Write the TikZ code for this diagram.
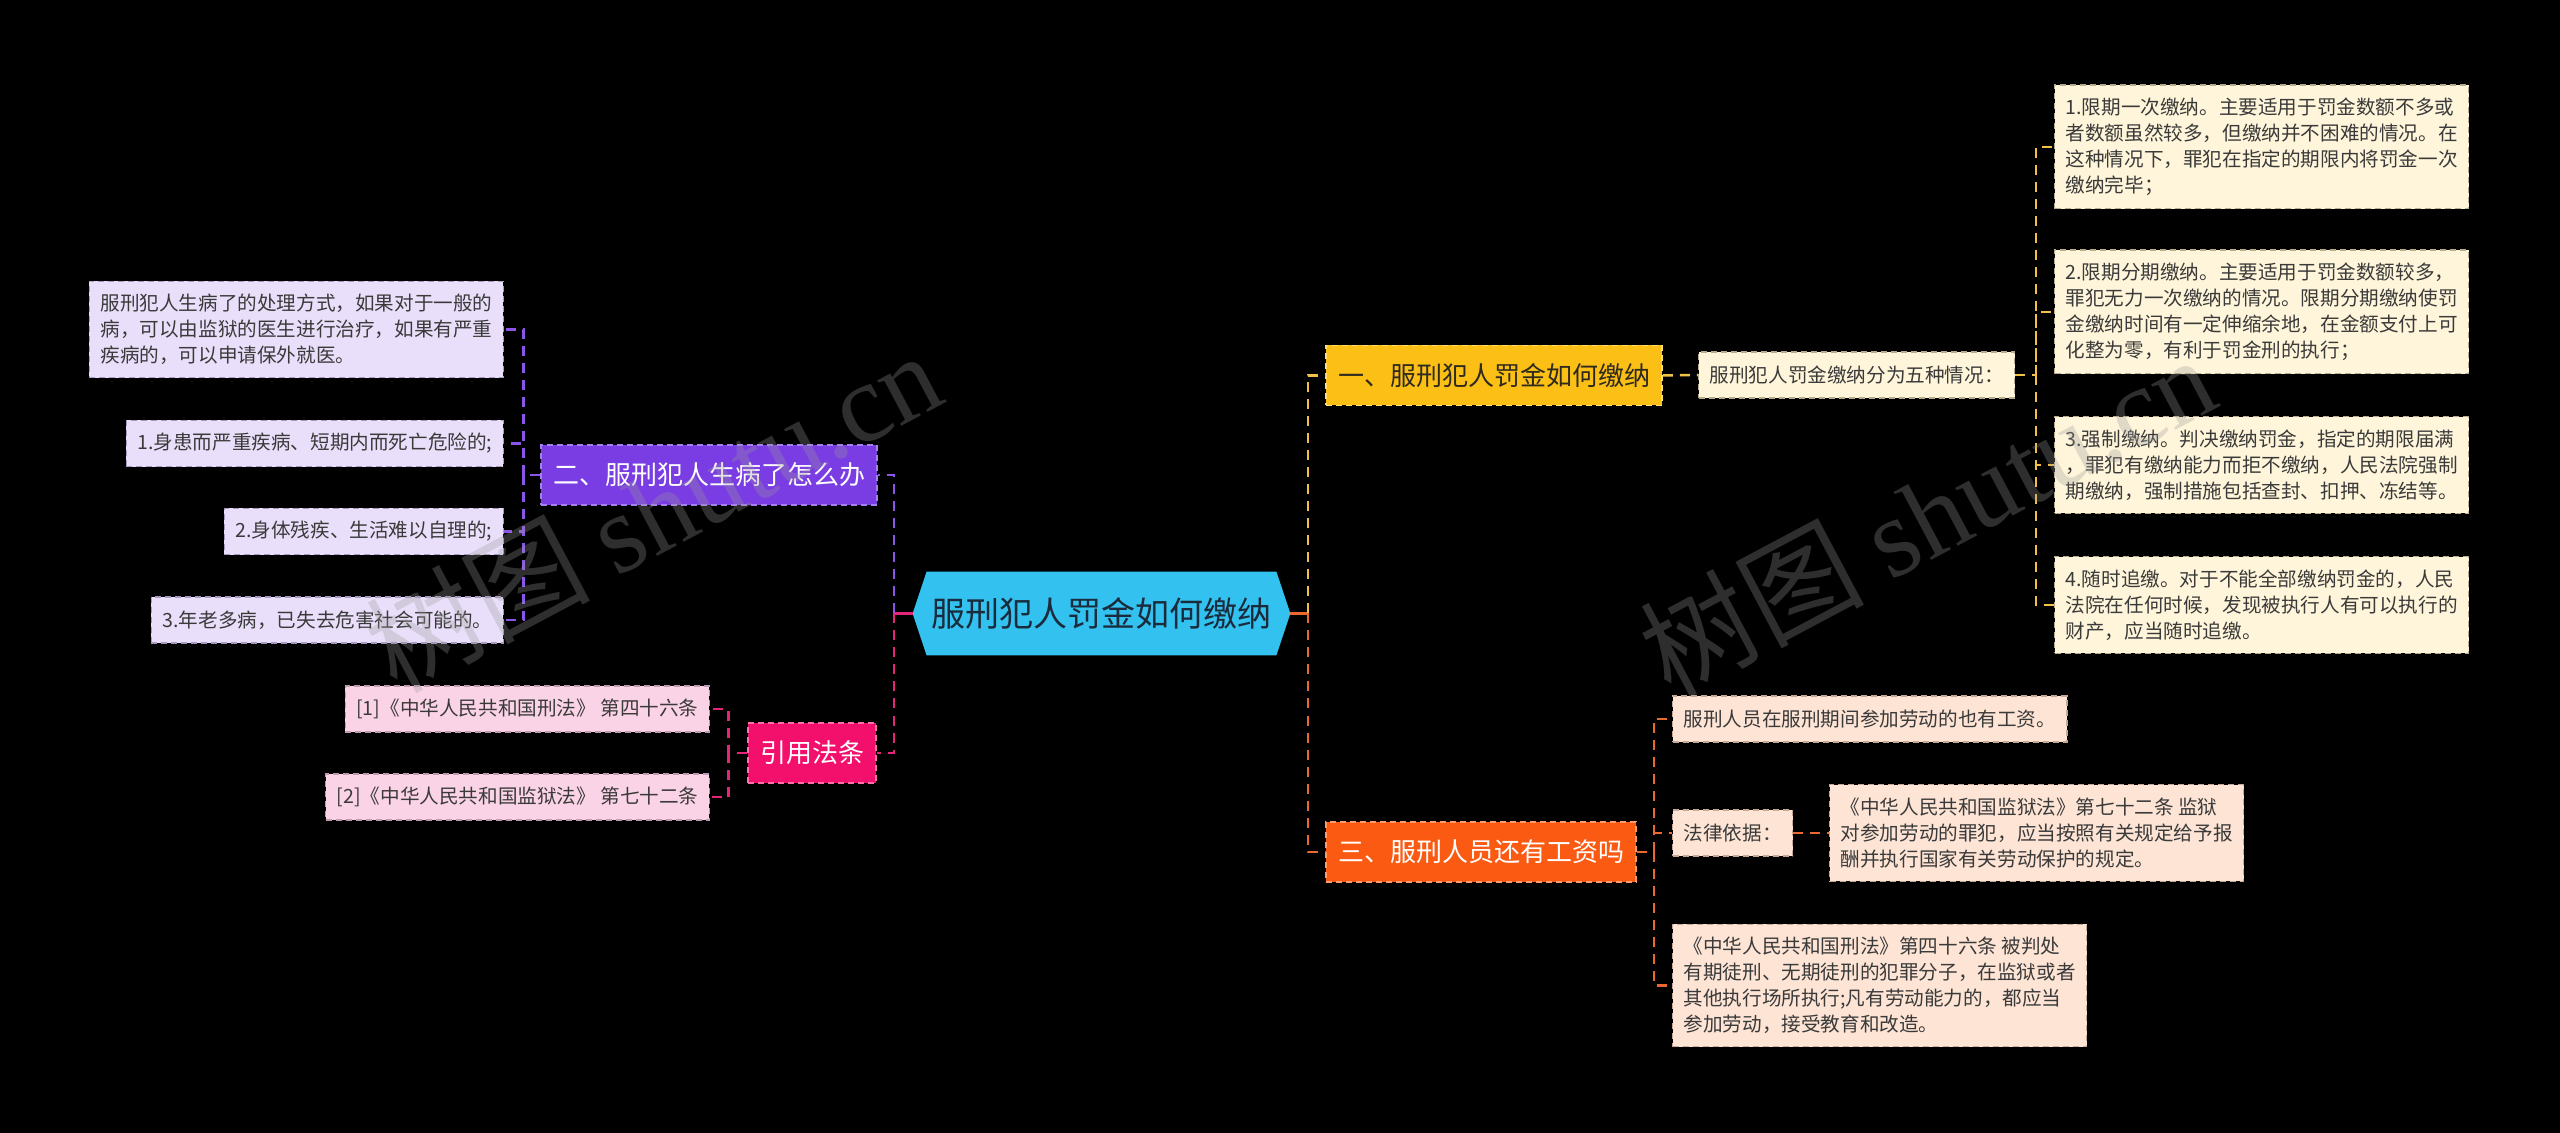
\documentclass[tikz,border=0pt]{standalone}
\usepackage{fontspec}
\setmainfont{Noto Sans CJK SC}
\newfontfamily\wmserif{Liberation Serif}
\pgfdeclarelayer{bgl}
\pgfdeclarelayer{shapes}
\pgfdeclarelayer{fgl}
\pgfsetlayers{bgl,shapes,main,fgl}
\definecolor{cyanfill}{HTML}{33C2F0}
\definecolor{ctext}{HTML}{1A2B3C}
\definecolor{ybr}{HTML}{FBBF16}
\definecolor{ybrd}{HTML}{FFDD77}
\definecolor{ybrtext}{HTML}{2E2A1E}
\definecolor{cream}{HTML}{FFF5DA}
\definecolor{creamd}{HTML}{B8AC8C}
\definecolor{prb}{HTML}{7A3DE3}
\definecolor{prbd}{HTML}{A581F0}
\definecolor{lav}{HTML}{EADFFA}
\definecolor{lavd}{HTML}{A899C0}
\definecolor{mgb}{HTML}{F2106C}
\definecolor{mgbd}{HTML}{FF70A8}
\definecolor{pinkf}{HTML}{FBD3E6}
\definecolor{pinkd}{HTML}{C09AAE}
\definecolor{orb}{HTML}{FB5A13}
\definecolor{orbd}{HTML}{FF9A6A}
\definecolor{peach}{HTML}{FDE4D5}
\definecolor{peachd}{HTML}{C6A896}
\definecolor{yc}{HTML}{F3C146}
\definecolor{pc}{HTML}{8A55E8}
\definecolor{mc}{HTML}{E4257A}
\definecolor{oc}{HTML}{E9692F}
\definecolor{leaftext}{HTML}{3A3A3A}
\definecolor{wmgray}{HTML}{999999}
\tikzset{
  conn/.style={line width=1.25pt, dash pattern=on 5pt off 3.5pt},
  solidconn/.style={line width=1.5pt},
  leaf/.style={font=\fontsize{9.8pt}{13pt}\selectfont, text=leaftext, inner xsep=5.5pt, inner ysep=6.5pt,
    minimum height=23pt, align=left, line width=0.6pt, dash pattern=on 3pt off 2pt},
  branch/.style={font=\fontsize{13pt}{15pt}\selectfont, minimum height=30pt, inner xsep=6pt, inner ysep=0pt,
    line width=0.8pt, dash pattern=on 3pt off 2pt},
  centraltext/.style={font=\fontsize{17pt}{20pt}\selectfont, text=ctext, minimum width=174.5pt,
    minimum height=41.5pt, inner sep=0pt},
  wm/.style={rotate=28, text=wmgray, text opacity=0.3, font=\fontsize{56pt}{60pt}\selectfont, inner sep=0pt}
}
\begin{document}
\begin{tikzpicture}[x=0.5pt,y=-0.5pt]
\begin{pgfonlayer}{bgl}
\fill[black] (0,0) rectangle (2560,1133);
\end{pgfonlayer}
\useasboundingbox (0,0) rectangle (2560,1133);

% central
\node[centraltext] (c) at (1101.5,613.5) {服刑犯人罚金如何缴纳};
\coordinate (cL) at ([xshift=-7pt]c.west);
\coordinate (cR) at ([xshift=7pt]c.east);
\begin{pgfonlayer}{shapes}
\fill[cyanfill] (c.north west) -- (c.north east) -- (cR) -- (c.south east) -- (c.south west) -- (cL) -- cycle;
\end{pgfonlayer}

% branches
\node[branch, fill=ybr, draw=ybrd, text=ybrtext] (b1) at (1494,375.5) {一、服刑犯人罚金如何缴纳};
\node[branch, fill=prb, draw=prbd, text=white] (b2) at (709,475) {二、服刑犯人生病了怎么办};
\node[branch, fill=mgb, draw=mgbd, text=white] (b3) at (812,753) {引用法条};
\node[branch, fill=orb, draw=orbd, text=white] (b4) at (1481,852) {三、服刑人员还有工资吗};

\coordinate (jL) at (894,613.5);
\coordinate (jR) at (1308,613.5);
\draw[solidconn, mc] (cL) -- (jL);
\draw[conn, pc] (jL) |- (b2.east);
\draw[conn, mc] (jL) |- (b3.east);
\draw[solidconn, oc] (cR) -- (jR);
\draw[conn, yc] (jR) |- (b1.west);
\draw[conn, oc] (jR) |- (b4.west);

% yellow branch
\node[leaf, fill=cream, draw=creamd, anchor=west] (l1) at (1698,375) {服刑犯人罚金缴纳分为五种情况：};
\draw[conn, yc] (b1.east) -- (l1.west);
\node[leaf, fill=cream, draw=creamd, anchor=west] (a1) at (2054,147) {1.限期一次缴纳。主要适用于罚金数额不多或\\者数额虽然较多，但缴纳并不困难的情况。在\\这种情况下，罪犯在指定的期限内将罚金一次\\缴纳完毕；};
\node[leaf, fill=cream, draw=creamd, anchor=west] (a2) at (2054,312) {2.限期分期缴纳。主要适用于罚金数额较多，\\罪犯无力一次缴纳的情况。限期分期缴纳使罚\\金缴纳时间有一定伸缩余地，在金额支付上可\\化整为零，有利于罚金刑的执行；};
\node[leaf, fill=cream, draw=creamd, anchor=west] (a3) at (2054,465) {3.强制缴纳。判决缴纳罚金，指定的期限届满\\，罪犯有缴纳能力而拒不缴纳，人民法院强制\\期缴纳，强制措施包括查封、扣押、冻结等。};
\node[leaf, fill=cream, draw=creamd, anchor=west] (a4) at (2054,605) {4.随时追缴。对于不能全部缴纳罚金的，人民\\法院在任何时候，发现被执行人有可以执行的\\财产，应当随时追缴。};
\coordinate (sy) at (2036,375);
\draw[conn, yc] (l1.east) -- (sy) |- (a1.west);
\draw[conn, yc] (sy) |- (a2.west);
\draw[conn, yc] (sy) |- (a3.west);
\draw[conn, yc] (sy) |- (a4.west);

% purple branch
\node[leaf, fill=lav, draw=lavd, anchor=east] (p0) at (504,329.5) {服刑犯人生病了的处理方式，如果对于一般的\\病，可以由监狱的医生进行治疗，如果有严重\\疾病的，可以申请保外就医。};
\node[leaf, fill=lav, draw=lavd, anchor=east] (p1) at (504,443.5) {1.身患而严重疾病、短期内而死亡危险的;};
\node[leaf, fill=lav, draw=lavd, anchor=east] (p2) at (504,531.5) {2.身体残疾、生活难以自理的;};
\node[leaf, fill=lav, draw=lavd, anchor=east] (p3) at (504,620) {3.年老多病，已失去危害社会可能的。};
\coordinate (sp) at (523.5,475);
\draw[conn, pc] (b2.west) -- (sp) |- (p0.east);
\draw[conn, pc] (sp) |- (p1.east);
\draw[conn, pc] (sp) |- (p2.east);
\draw[conn, pc] (sp) |- (p3.east);

% magenta branch
\node[leaf, fill=pinkf, draw=pinkd, anchor=east] (m1) at (710,709) {[1]《中华人民共和国刑法》 第四十六条};
\node[leaf, fill=pinkf, draw=pinkd, anchor=east] (m2) at (710,797) {[2]《中华人民共和国监狱法》 第七十二条};
\coordinate (sm) at (728.6,753);
\draw[conn, mc] (b3.west) -- (sm) |- (m1.east);
\draw[conn, mc] (sm) |- (m2.east);

% orange branch
\node[leaf, fill=peach, draw=peachd, anchor=west] (o1) at (1672,719) {服刑人员在服刑期间参加劳动的也有工资。};
\node[leaf, fill=peach, draw=peachd, anchor=west] (o2) at (1672,833) {法律依据：};
\node[leaf, fill=peach, draw=peachd, anchor=west] (o2a) at (1829,833) {《中华人民共和国监狱法》第七十二条 监狱\\对参加劳动的罪犯，应当按照有关规定给予报\\酬并执行国家有关劳动保护的规定。};
\node[leaf, fill=peach, draw=peachd, anchor=west] (o3) at (1672,985.5) {《中华人民共和国刑法》第四十六条 被判处\\有期徒刑、无期徒刑的犯罪分子，在监狱或者\\其他执行场所执行;凡有劳动能力的，都应当\\参加劳动，接受教育和改造。};
\coordinate (so) at (1654,852);
\draw[conn, oc] (b4.east) -- (so) |- (o1.west);
\draw[conn, oc] (so) |- (o2.west);
\draw[conn, oc] (so) |- (o3.west);
\draw[conn, oc] (o2.east) -- (o2a.west);

% watermarks
\begin{pgfonlayer}{fgl}
\node[wm] (w1) at (653,510) {树图 {\wmserif shutu.cn}};
\node[wm] (w2) at (1927,514) {树图 {\wmserif shutu.cn}};
\end{pgfonlayer}
\end{tikzpicture}
\end{document}
